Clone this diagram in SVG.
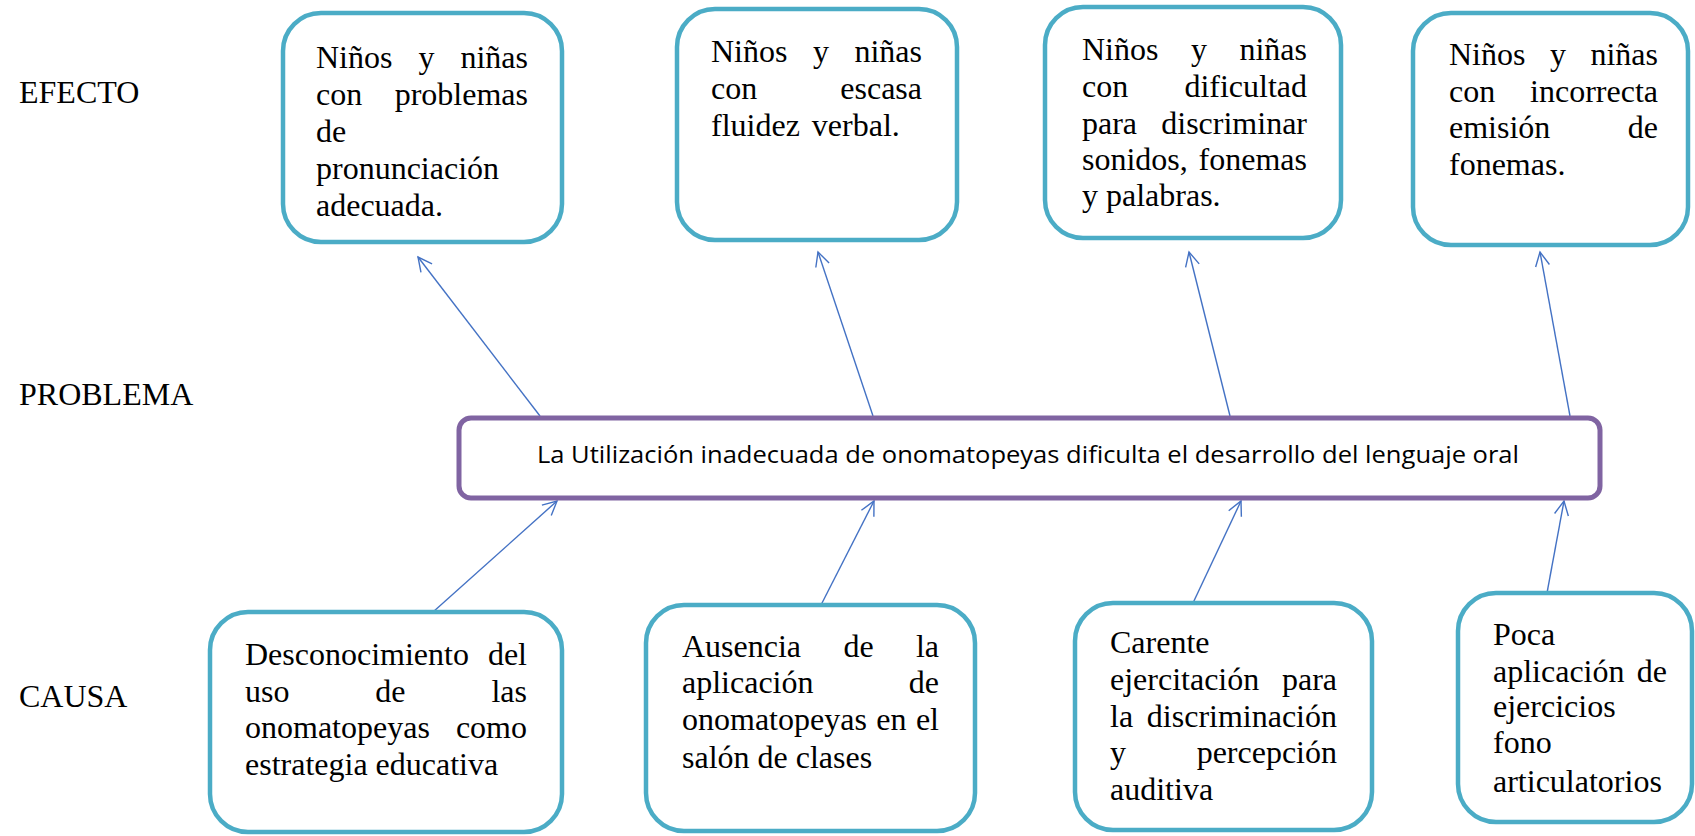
<svg xmlns="http://www.w3.org/2000/svg" width="1695" height="836" viewBox="0 0 1695 836">
<style>
.box{fill:#fff;stroke:#4BACC6;stroke-width:4.5}
.prob{fill:#fff;stroke:#8064A2;stroke-width:5}
.t{font-family:"Liberation Serif","Times New Roman",serif;font-size:32px;fill:#000}
.m{text-anchor:middle}
.e{text-anchor:end}
.p{font-family:"Open Sans","Noto Sans",sans-serif;font-size:23px;fill:#000}
.c{stroke:#4472C4;stroke-width:1.4;fill:none;marker-end:url(#ah)}
</style>
<defs>
<marker id="ah" markerUnits="userSpaceOnUse" markerWidth="18" markerHeight="18" viewBox="0 0 18 18" refX="16" refY="9" orient="auto">
<path d="M2,2 L16,9 L2,16" fill="none" stroke="#4472C4" stroke-width="1.4"/>
</marker>
</defs>
<rect width="1695" height="836" fill="#fff"/>
<g id="labels">
<text class="t" x="19" y="103">EFECTO</text>
<text class="t" x="19" y="405">PROBLEMA</text>
<text class="t" x="19" y="707">CAUSA</text>
</g>
<g id="connectors">
<line class="c" x1="540" y1="416" x2="418" y2="257"/>
<line class="c" x1="873" y1="416" x2="818" y2="252"/>
<line class="c" x1="1230" y1="416" x2="1189" y2="252"/>
<line class="c" x1="1570" y1="416" x2="1540" y2="252"/>
<line class="c" x1="433" y1="612" x2="557" y2="501"/>
<line class="c" x1="821" y1="605" x2="874" y2="501"/>
<line class="c" x1="1193" y1="603" x2="1241" y2="501"/>
<line class="c" x1="1547" y1="593" x2="1564" y2="501"/>
</g>
<g id="efecto1">
<rect class="box" x="283" y="13" width="279" height="229" rx="38"/>
<text class="t" x="316" y="68">Niños</text><text class="t m" x="426.4" y="68">y</text><text class="t e" x="528" y="68">niñas</text>
<text class="t" x="316" y="105">con</text><text class="t e" x="528" y="105">problemas</text>
<text class="t" x="316" y="142">de</text>
<text class="t" x="316" y="179">pronunciación</text>
<text class="t" x="316" y="216">adecuada.</text>
</g>
<g id="efecto2">
<rect class="box" x="677" y="9" width="280" height="231" rx="38"/>
<text class="t" x="711" y="62">Niños</text><text class="t m" x="820.9" y="62">y</text><text class="t e" x="922" y="62">niñas</text>
<text class="t" x="711" y="99">con</text><text class="t e" x="922" y="99">escasa</text>
<text class="t" x="711" y="136" word-spacing="4">fluidez verbal.</text>
</g>
<g id="efecto3">
<rect class="box" x="1045" y="7" width="296" height="231" rx="38"/>
<text class="t" x="1082" y="60">Niños</text><text class="t m" x="1198.9" y="60">y</text><text class="t e" x="1307" y="60">niñas</text>
<text class="t" x="1082" y="97">con</text><text class="t e" x="1307" y="97">dificultad</text>
<text class="t" x="1082" y="134">para</text><text class="t e" x="1307" y="134">discriminar</text>
<text class="t" x="1082" y="170">sonidos,</text><text class="t e" x="1307" y="170">fonemas</text>
<text class="t" x="1082" y="206">y palabras.</text>
</g>
<g id="efecto4">
<rect class="box" x="1413" y="13" width="275" height="232" rx="38"/>
<text class="t" x="1449" y="65">Niños</text><text class="t m" x="1557.9" y="65">y</text><text class="t e" x="1658" y="65">niñas</text>
<text class="t" x="1449" y="102">con</text><text class="t e" x="1658" y="102">incorrecta</text>
<text class="t" x="1449" y="138">emisión</text><text class="t e" x="1658" y="138">de</text>
<text class="t" x="1449" y="175">fonemas.</text>
</g>
<g id="problema">
<rect class="prob" x="459" y="418" width="1141" height="80" rx="12"/>
<text class="p" x="537" y="463" textLength="982" lengthAdjust="spacingAndGlyphs">La Utilización inadecuada de onomatopeyas dificulta el desarrollo del lenguaje oral</text>
</g>
<g id="causa1">
<rect class="box" x="210" y="612" width="352" height="220" rx="38"/>
<text class="t" x="245" y="665">Desconocimiento</text><text class="t e" x="527" y="665">del</text>
<text class="t" x="245" y="702">uso</text><text class="t m" x="390.4" y="702">de</text><text class="t e" x="527" y="702">las</text>
<text class="t" x="245" y="738">onomatopeyas</text><text class="t e" x="527" y="738">como</text>
<text class="t" x="245" y="775">estrategia educativa</text>
</g>
<g id="causa2">
<rect class="box" x="646" y="605" width="329" height="226" rx="38"/>
<text class="t" x="682" y="657">Ausencia</text><text class="t m" x="858.5" y="657">de</text><text class="t e" x="939" y="657">la</text>
<text class="t" x="682" y="693">aplicación</text><text class="t e" x="939" y="693">de</text>
<text class="t" x="682" y="730">onomatopeyas</text><text class="t m" x="891.4" y="730">en</text><text class="t e" x="939" y="730">el</text>
<text class="t" x="682" y="768">salón de clases</text>
</g>
<g id="causa3">
<rect class="box" x="1075" y="603" width="297" height="227" rx="38"/>
<text class="t" x="1110" y="653">Carente</text>
<text class="t" x="1110" y="690">ejercitación</text><text class="t e" x="1337" y="690">para</text>
<text class="t" x="1110" y="727">la</text><text class="t e" x="1337" y="727">discriminación</text>
<text class="t" x="1110" y="763">y</text><text class="t e" x="1337" y="763">percepción</text>
<text class="t" x="1110" y="800">auditiva</text>
</g>
<g id="causa4">
<rect class="box" x="1458" y="593" width="234" height="229" rx="38"/>
<text class="t" x="1493" y="645">Poca</text>
<text class="t" x="1493" y="682">aplicación</text><text class="t e" x="1667" y="682">de</text>
<text class="t" x="1493" y="717">ejercicios</text>
<text class="t" x="1493" y="753">fono</text>
<text class="t" x="1493" y="792">articulatorios</text>
</g>
</svg>
